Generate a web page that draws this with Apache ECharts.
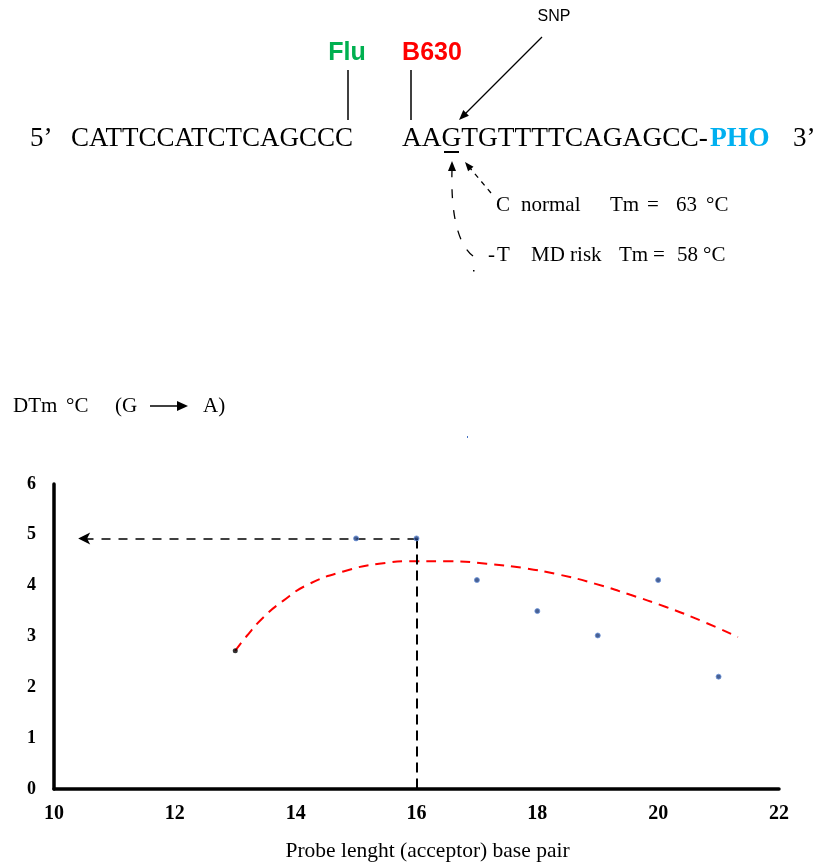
<!DOCTYPE html>
<html>
<head>
<meta charset="utf-8">
<script src="https://cdn.jsdelivr.net/npm/echarts@6/dist/echarts.min.js"></script>
<style>
  html, body { margin: 0; padding: 0; background: #fff; }
  #main { width: 816px; height: 863px; }
</style>
</head>
<body>
<div id="main"></div>
<script>
// probe length (bp) vs DTm
const lengths = [13, 15, 16, 17, 18, 19, 20, 21]
const dTm = [2.72, 4.93, 4.93, 4.11, 3.5, 3.02, 4.11, 2.21]
// red dashed trend curve
const fitX = [13.0, 13.19, 13.46, 13.78, 14.2, 14.79, 15.38, 15.98, 16.57, 17.16, 17.76, 18.35, 18.95, 19.54, 20.13, 20.73, 21.32]
const fitY = [2.72, 3.01, 3.37, 3.69, 4.02, 4.28, 4.43, 4.48, 4.48, 4.43, 4.35, 4.22, 4.04, 3.82, 3.58, 3.3, 2.99]
const xTicks = [10, 12, 14, 16, 18, 20, 22]
const yTicks = [0, 1, 2, 3, 4, 5, 6]
// optimum
const best = [16, 4.93]
const arrowEndX = 10.4

const serif = 'Liberation Serif'
const sans = 'Liberation Sans'

var myChart = echarts.init(document.getElementById('main'))

function txt(x, y, s, size, opts) {
  opts = opts || {}
  return {
    type: 'text',
    x: x,
    y: y,
    silent: true,
    style: {
      text: s,
      fontFamily: opts.font || serif,
      fontSize: size,
      fontWeight: opts.bold ? 'bold' : 'normal',
      fill: opts.color || '#000',
      align: opts.align || 'left',
      verticalAlign: 'middle'
    }
  }
}
function seg(x1, y1, x2, y2, w, dash) {
  return {
    type: 'line',
    silent: true,
    shape: { x1: x1, y1: y1, x2: x2, y2: y2 },
    style: { stroke: '#000', lineWidth: w, lineDash: dash || null }
  }
}
function head(points) {
  return { type: 'polygon', silent: true, shape: { points: points }, style: { fill: '#000' } }
}

// sequence diagram on top
var graphics = [
  txt(30, 139, '5’', 27),
  txt(71, 139, 'CATTCCATCTCAGCCC', 27),
  txt(402, 139, 'AAGTGTTTTCAGAGCC-', 27.4),
  txt(710, 139, 'PHO', 27.5, { bold: true, color: '#00B0F0' }),
  txt(793, 139, '3’', 27),
  { type: 'rect', silent: true, shape: { x: 444, y: 151, width: 15, height: 2 }, style: { fill: '#000' } },
  txt(347, 53, 'Flu', 25, { font: sans, bold: true, color: '#00B050', align: 'center' }),
  txt(432, 53, 'B630', 25, { font: sans, bold: true, color: '#FF0000', align: 'center' }),
  seg(348, 70, 348, 120, 1.5),
  seg(411, 70, 411, 120, 1.5),
  txt(554, 17, 'SNP', 16, { font: sans, align: 'center' }),
  seg(542, 37, 465, 114, 1.3),
  head([[459, 120], [468.9, 115.7], [463.3, 110.1]]),
  // dashed arrow from normal allele
  seg(491, 193, 470, 168, 1.3, [5, 5]),
  head([[465, 162], [473.5, 166.7], [468.1, 171.2]]),
  // dashed curved arrow from MD risk allele
  {
    type: 'bezierCurve',
    silent: true,
    shape: { x1: 473, y1: 256, x2: 452, y2: 170, cpx1: 455, cpy1: 242, cpx2: 451, cpy2: 205 },
    style: { stroke: '#000', lineWidth: 1.3, fill: null, lineDash: [9, 12] }
  },
  head([[452, 161], [448, 171], [456, 171]]),
  { type: 'rect', silent: true, shape: { x: 473, y: 270, width: 1.5, height: 1.5 }, style: { fill: '#000' } },
  txt(496, 205, 'C', 21),
  txt(521, 205, 'normal', 21),
  txt(610, 205, 'Tm', 21),
  txt(647, 205, '=', 21),
  txt(676, 205, '63', 21),
  txt(706, 205, '°C', 21),
  txt(488, 255, '-', 21),
  txt(497, 255, 'T', 21),
  txt(531, 255, 'MD risk', 21),
  txt(619, 255, 'Tm', 21),
  txt(653, 255, '=', 21),
  txt(677, 255, '58', 21),
  txt(703, 255, '°C', 21),
  // y axis title
  txt(13, 406, 'DTm', 21),
  txt(66, 406, '°C', 21),
  txt(115, 406, '(G', 21),
  seg(150, 406, 180, 406, 1.5),
  head([[188, 406], [177, 401], [177, 411]]),
  txt(203, 406, 'A)', 21),
  { type: 'rect', silent: true, shape: { x: 467, y: 436, width: 1, height: 2 }, style: { fill: '#4472C4' } }
]

var option = {
  animation: false,
  grid: { left: 54, right: 37, top: 484, bottom: 73 },
  xAxis: {
    type: 'value',
    min: xTicks[0],
    max: xTicks[xTicks.length - 1],
    interval: 2,
    name: 'Probe lenght (acceptor) base pair',
    nameLocation: 'middle',
    nameGap: 51,
    nameTextStyle: { fontFamily: serif, fontSize: 21.5, color: '#000', padding: [0, 0, 0, 22] },
    axisLine: { lineStyle: { color: '#000', width: 3.5 } },
    axisTick: { show: false },
    splitLine: { show: false },
    axisLabel: { color: '#000', fontFamily: serif, fontWeight: 'bold', fontSize: 20, margin: 15 }
  },
  yAxis: {
    type: 'value',
    min: yTicks[0],
    max: yTicks[yTicks.length - 1],
    interval: 1,
    axisLine: { show: true, lineStyle: { color: '#000', width: 3.5 } },
    axisTick: { show: false },
    splitLine: { show: false },
    axisLabel: { color: '#000', fontFamily: serif, fontWeight: 'bold', fontSize: 18, margin: 18 }
  },
  series: [
    {
      type: 'line',
      data: fitX.map((x, i) => [x, fitY[i]]),
      smooth: true,
      showSymbol: false,
      silent: true,
      lineStyle: { color: '#ff0000', width: 2, type: [10, 7] },
      z: 2
    },
    {
      type: 'line',
      data: [],
      markLine: {
        silent: true,
        symbol: ['none', 'arrow'],
        symbolSize: [9, 12],
        label: { show: false },
        lineStyle: { color: '#000', width: 1.5, type: [9, 8] },
        data: [[{ coord: best }, { coord: [arrowEndX, best[1]] }]]
      }
    },
    {
      type: 'line',
      data: [],
      markLine: {
        silent: true,
        symbol: ['none', 'none'],
        label: { show: false },
        lineStyle: { color: '#000', width: 2, type: [10, 6] },
        data: [[{ coord: best }, { coord: [best[0], 0] }]]
      }
    },
    {
      type: 'scatter',
      symbolSize: 5,
      z: 5,
      data: lengths.map((x, i) => ({
        value: [x, dTm[i]],
        itemStyle: i === 0
          ? { color: '#000', borderWidth: 0 }
          : { color: '#1b3a78', borderColor: '#6a93dc', borderWidth: 1 }
      }))
    }
  ],
  graphic: graphics
}

myChart.setOption(option)
window.onresize = function () {
  myChart.resize()
}
</script>
</body>
</html>
